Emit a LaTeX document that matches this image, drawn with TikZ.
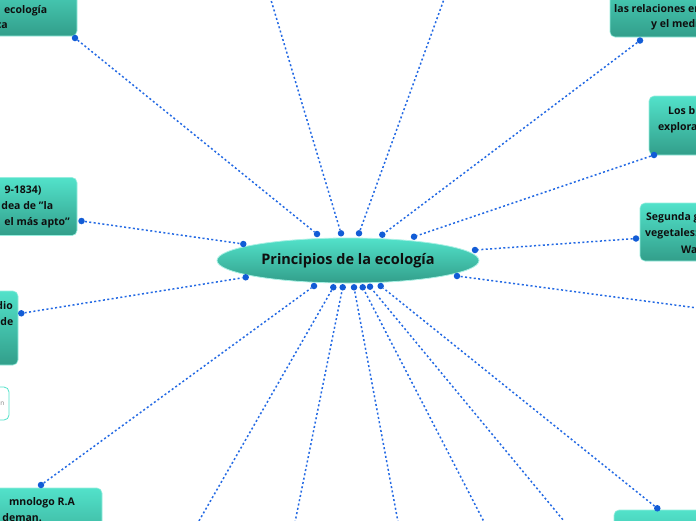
\documentclass[tikz,border=0pt]{standalone}
\usepackage{fontspec}
\setmainfont{Open Sans}
\usetikzlibrary{shapes.geometric}
\definecolor{boxtop}{RGB}{82,226,202}
\definecolor{boxbot}{RGB}{50,158,138}
\definecolor{linkblue}{RGB}{35,105,228}
\definecolor{dotblue}{RGB}{18,92,214}
\definecolor{txt}{RGB}{15,15,15}
\tikzset{
 topic/.style={rounded corners=5pt, top color=boxtop, bottom color=boxbot, draw=boxtop!60!white, line width=0.6pt, inner sep=0pt},
 ghost/.style={rounded corners=5pt, fill=white, draw=boxtop, line width=0.8pt, inner sep=0pt},
 link/.style={linkblue, line width=1.5pt, dash pattern=on 2pt off 2.4pt},
 dotmark/.style={fill=dotblue, circle, inner sep=0pt, minimum size=6.5pt},
 btext/.style={font=\fontsize{10.5}{12}\selectfont\bfseries, text=txt, inner sep=0pt},
}
\begin{document}
\begin{tikzpicture}[x=1pt,y=-1pt]
\useasboundingbox (0,0) rectangle (696,520);
\clip (0,0) rectangle (696,520);
\fill[white] (0,0) rectangle (696,520);

% central topic
\node[ellipse, top color=boxtop, bottom color=boxbot, draw=boxtop!50!white, line width=0.8pt,
      minimum width=262pt, minimum height=45pt, inner sep=0pt,
      font=\fontsize{14.5}{16}\selectfont\bfseries, text=txt] (root) at (348,260.5) {Principios de la ecología};

% boxes (partly outside the picture)
\node[topic, minimum width=177pt, minimum height=66pt] (tl) at (-11.5,3) {};
\node[topic, minimum width=190pt, minimum height=67pt] (tr) at (705,3.5) {};
\node[topic, minimum width=151pt, minimum height=59pt] (er) at (724.5,125.5) {};
\node[topic, minimum width=160pt, minimum height=58pt] (fr) at (720,232) {};
\node[topic, minimum width=177pt, minimum height=58pt] (l1) at (-11.5,206.5) {};
\node[topic, minimum width=118pt, minimum height=74pt] (l2) at (-41,328) {};
\node[ghost, minimum width=59pt, minimum height=33pt] (sm) at (-20.5,403.5) {};
\node[topic, minimum width=202pt, minimum height=72pt] (bl) at (1,524) {};
\node[topic, minimum width=186pt, minimum height=70pt] (br) at (707,545) {};

% visible text fragments
\node[btext, anchor=base east] (t1a) at (47.5,13.3) {ecología};
\node[btext, anchor=base east] (t1b) at (8,28.6) {ca};
\node[btext, anchor=base west] (t2a) at (614,12) {las relaciones en};
\node[btext, anchor=base west] (t2b) at (651,27.5) {y el medi};
\node[btext, anchor=base west] (t3a) at (668,114) {Los b};
\node[btext, anchor=base west] (t3b) at (658,130) {explora};
\node[btext, anchor=base west] (t4a) at (646,220) {Segunda g};
\node[btext, anchor=base west] (t4b) at (645,236) {vegetales:};
\node[btext, anchor=base west] (t4c) at (681,253) {Wa};
\node[btext, anchor=base east] (t5a) at (41.7,193) {9-1834)};
\node[btext, anchor=base east] (t5b) at (53.3,209.5) {dea de \symbol{34}la};
\node[btext, anchor=base east] (t5c) at (70,225.5) {el más apto\symbol{34}};
\node[btext, anchor=base east] (t6a) at (13,309.5) {dio};
\node[btext, anchor=base east] (t6b) at (13.5,325.5) {de};
\node[font=\fontsize{6.5}{8}\selectfont, text=black!50, inner sep=0pt, anchor=base east] (t7) at (4.5,405.5) {n};
\node[btext, anchor=base east] (t8a) at (75,505) {mnologo R.A};
\node[btext, anchor=base east] (t8b) at (42,521) {deman.};

% dots at the central topic
\node[dotmark] (r1) at (317,234) {};
\node[dotmark] (r2) at (341,233.3) {};
\node[dotmark] (r3) at (359,233.3) {};
\node[dotmark] (r4) at (382.3,234.7) {};
\node[dotmark] (r5) at (414,236.7) {};
\node[dotmark] (r6) at (475,250) {};
\node[dotmark] (r7) at (457,276) {};
\node[dotmark] (r8) at (243.3,244) {};
\node[dotmark] (r9) at (245.7,277.3) {};
\node[dotmark] (b1) at (314,286) {};
\node[dotmark] (b2) at (333.3,287.3) {};
\node[dotmark] (b3) at (342.7,287.3) {};
\node[dotmark] (b4) at (354,287.3) {};
\node[dotmark] (b5) at (362.7,287.3) {};
\node[dotmark] (b6) at (370,286.7) {};
\node[dotmark] (b7) at (380.7,286) {};

% dots at the outer topics
\node[dotmark] (o1) at (75,38) {};
\node[dotmark] (o4) at (640,40.5) {};
\node[dotmark] (o5) at (654,155) {};
\node[dotmark] (o6) at (636,238.5) {};
\node[dotmark] (o8) at (81.5,221) {};
\node[dotmark] (o9) at (21.3,313.3) {};
\node[dotmark] (ob1) at (41,485) {};
\node[dotmark] (ob7) at (657.3,508.3) {};

% free ends outside the picture
\coordinate (f2) at (265,-20);
\coordinate (f3) at (451,-20);
\coordinate (f7) at (720,311);
\coordinate (fb2) at (188,540);
\coordinate (fb3) at (291.4,540);
\coordinate (fb4) at (401.4,540);
\coordinate (fb5) at (493.4,540);
\coordinate (fb6) at (579.7,540);

% connectors
\draw[link] (o1) -- (r1);
\draw[link] (f2) -- (r2);
\draw[link] (f3) -- (r3);
\draw[link] (o4) -- (r4);
\draw[link] (o5) -- (r5);
\draw[link] (o6) -- (r6);
\draw[link] (f7) -- (r7);
\draw[link] (o8) -- (r8);
\draw[link] (o9) -- (r9);
\draw[link] (ob1) -- (b1);
\draw[link] (fb2) -- (b2);
\draw[link] (fb3) -- (b3);
\draw[link] (fb4) -- (b4);
\draw[link] (fb5) -- (b5);
\draw[link] (fb6) -- (b6);
\draw[link] (ob7) -- (b7);
\end{tikzpicture}
\end{document}
